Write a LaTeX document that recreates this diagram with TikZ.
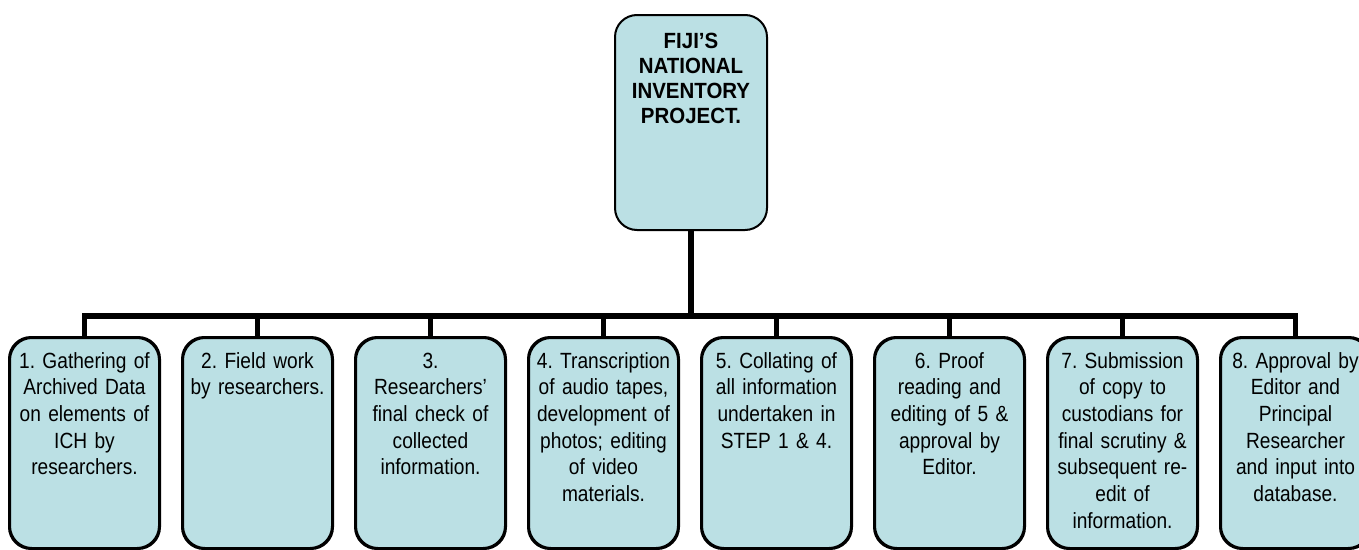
\documentclass[tikz,border=0pt]{standalone}
\usepackage{fontspec}
\setmainfont{Liberation Sans}[FakeStretch=0.87, WordSpace=0.6, BoldFeatures={FakeStretch=0.93}]
\frenchspacing
\definecolor{boxfill}{RGB}{187,224,228}
\tikzset{
  stepbox/.style={draw=black, line width=2pt, fill=boxfill, rounded corners=22pt, inner sep=0pt},
  steptext/.style={anchor=base, text width=160pt, align=center, inner sep=0pt, font=\fontsize{22}{26.7}\selectfont\frenchspacing},
  toptext/.style={anchor=base, text width=160pt, align=center, inner sep=0pt, font=\fontsize{22}{25}\selectfont\bfseries},
  conn/.style={draw=black, line width=5.5pt, line join=miter}
}
\begin{document}
\begin{tikzpicture}[x=1pt,y=-1pt]
\clip (0,0) rectangle (1359,549);
\useasboundingbox (0,0) rectangle (1359,549);
% top box
\node[stepbox, minimum width=152pt, minimum height=215pt] (top) at (691,122.5) {};
\node[toptext] (toplbl) at (691,48) {FIJI’S\\NATIONAL\\INVENTORY\\PROJECT.};
\coordinate (hub) at (691,316);
% step boxes
\foreach \i in {1,...,8}{
  \node[stepbox, minimum width=149pt, minimum height=210pt] (b\i) at ({84.5+173*(\i-1)},443) {};
}
\draw[conn] (top.south) -- (hub);
\foreach \i in {1,...,8}{
  \draw[conn] (hub) -| ([yshift=-1pt]b\i.north);
}
% redraw box borders over connector ends
\foreach \i in {1,...,8}{
  \draw[draw=black, line width=2pt, rounded corners=22pt] (b\i.north west) rectangle (b\i.south east);
}
\node[steptext] (t1) at (b1.center |- 0,368) {1. Gathering of\\Archived Data\\on elements of\\ICH by\\researchers.};
\node[steptext] (t2) at (b2.center |- 0,368) {2. Field work\\by researchers.};
\node[steptext] (t3) at (b3.center |- 0,368) {3.\\Researchers’\\final check of\\collected\\information.};
\node[steptext] (t4) at (b4.center |- 0,368) {4. Transcription\\of audio tapes,\\development of\\photos; editing\\of video\\materials.};
\node[steptext] (t5) at (b5.center |- 0,368) {5. Collating of\\all information\\undertaken in\\STEP 1 \& 4.};
\node[steptext] (t6) at (b6.center |- 0,368) {6. Proof\\reading and\\editing of 5 \&\\approval by\\Editor.};
\node[steptext] (t7) at (b7.center |- 0,368) {7. Submission\\of copy to\\custodians for\\final scrutiny \&\\subsequent re-\\edit of\\information.};
\node[steptext] (t8) at (b8.center |- 0,368) {8. Approval by\\Editor and\\Principal\\Researcher\\and input into\\database.};
\end{tikzpicture}
\end{document}
